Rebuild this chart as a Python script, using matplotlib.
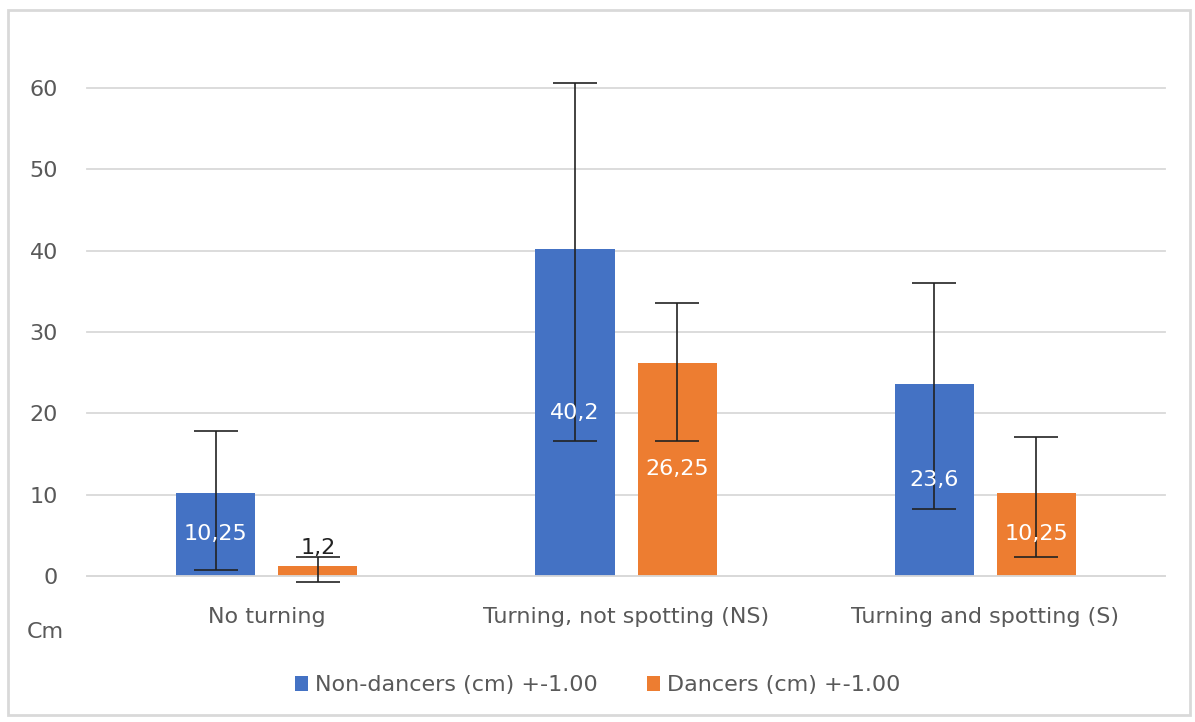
import matplotlib.pyplot as plt
from matplotlib.patches import Rectangle
import numpy as np

# Values
categories = ["No turning", "Turning, not spotting (NS)", "Turning and spotting (S)"]
non_dancers = [10.25, 40.2, 23.6]
dancers = [1.2, 26.25, 10.25]
non_dancers_err_low = [9.55, 23.6, 15.4]
non_dancers_err_high = [7.55, 20.4, 12.4]
dancers_err_low = [1.9, 9.65, 7.95]
dancers_err_high = [1.1, 7.35, 6.85]
labels_non = ["10,25", "40,2", "23,6"]
labels_dan = ["1,2", "26,25", "10,25"]
yticks = [0, 10, 20, 30, 40, 50, 60]

BLUE = "#4472C4"
ORANGE = "#ED7D31"
GREY_TXT = "#595959"
FS = 16

plt.rcParams['font.family'] = ['DejaVu Sans']

fig = plt.figure(figsize=(11.95, 7.22), dpi=100)
ax = fig.add_axes([0.0728, 0.2022, 0.9022, 0.6759])

# light border around the whole chart
fig.patches.append(Rectangle((8 / 1195, 7 / 722), 1182 / 1195, 705 / 722,
                             transform=fig.transFigure, fill=False,
                             edgecolor="#d9d9d9", linewidth=2))

x = np.arange(len(categories))
w = 0.22
off = 0.142

ax.bar(x - off, non_dancers, w, color=BLUE, zorder=2,
       label="Non-dancers (cm) +-1.00")
ax.bar(x + off, dancers, w, color=ORANGE, zorder=2,
       label="Dancers (cm) +-1.00")

ax.errorbar(x - off, non_dancers, yerr=[non_dancers_err_low, non_dancers_err_high],
            fmt="none", ecolor="#222222", elinewidth=1.2, capsize=16, capthick=1.2,
            zorder=3, clip_on=False)
ax.errorbar(x + off, dancers, yerr=[dancers_err_low, dancers_err_high],
            fmt="none", ecolor="#222222", elinewidth=1.2, capsize=16, capthick=1.2,
            zorder=3, clip_on=False)

# data labels (centered in the bars, the small one above)
for xi, v, t in zip(x - off, non_dancers, labels_non):
    ax.text(xi, v / 2, t, ha="center", va="center", color="white",
            fontsize=FS, zorder=4)
for xi, v, t in zip(x + off, dancers, labels_dan):
    if v < 3:
        ax.text(xi, v + 2.3, t, ha="center", va="center", color="#222222",
                fontsize=FS, zorder=4)
    else:
        ax.text(xi, v / 2, t, ha="center", va="center", color="white",
                fontsize=FS, zorder=4)

ax.set_xlim(-0.5, 2.5)
ax.set_ylim(0, 60)
ax.set_yticks(yticks)
ax.set_xticks(x)
ax.set_xticklabels(categories)
ax.grid(axis="y", color="#d9d9d9", linewidth=1.3, zorder=0)
for gl in ax.get_ygridlines():
    gl.set_clip_on(False)
for s in ["top", "right", "left"]:
    ax.spines[s].set_visible(False)
ax.spines["bottom"].set_color("#d9d9d9")
ax.spines["bottom"].set_linewidth(1.3)
ax.tick_params(axis="both", length=0, labelsize=FS, labelcolor=GREY_TXT)
ax.tick_params(axis="x", pad=22)
ax.tick_params(axis="y", pad=21)

fig.text(45 / 1195, 1 - 632 / 722, "Cm", ha="center", va="center",
         fontsize=FS, color=GREY_TXT)

ax.legend(loc="center", bbox_to_anchor=(0.5, 0.051), bbox_transform=fig.transFigure,
          ncol=2, frameon=False, fontsize=FS, labelcolor=GREY_TXT,
          handlelength=0.6, handleheight=0.7, handletextpad=0.3, columnspacing=2.2)

fig.savefig("out.png", dpi=100)
